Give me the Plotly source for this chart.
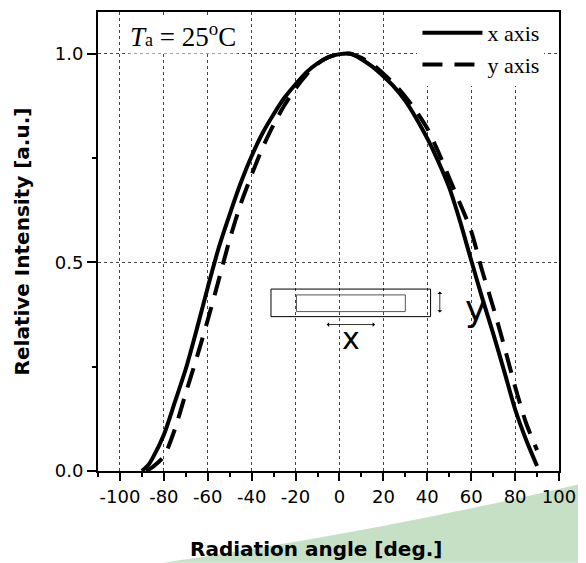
import plotly.graph_objects as go

# ---------------- data ----------------
angles_x = [-90, -87, -85, -80, -75, -70, -65, -60, -55, -50, -45, -40, -35, -30, -25,
            -20, -15, -10, -5, 0, 5, 10, 15, 20, 25, 30, 35, 40, 45, 50, 55, 60,
            65, 70, 75, 80, 85, 90]
intensity_x = [0.0, 0.015, 0.032, 0.087, 0.165, 0.245, 0.34, 0.44, 0.535, 0.615, 0.69,
               0.755, 0.81, 0.855, 0.895, 0.927, 0.956, 0.977, 0.992, 0.999, 1.0,
               0.987, 0.969, 0.946, 0.92, 0.887, 0.845, 0.797, 0.742, 0.679, 0.597,
               0.505, 0.415, 0.33, 0.24, 0.148, 0.075, 0.012]

angles_y = [-88, -85, -80, -75, -70, -65, -60, -55, -50, -45, -40, -35, -30, -25, -20,
            -15, -10, -5, 0, 5, 10, 15, 20, 25, 30, 35, 40, 45, 50, 55, 60, 65, 70,
            75, 80, 85, 90]
intensity_y = [0.0, 0.01, 0.035, 0.1, 0.187, 0.272, 0.362, 0.458, 0.555, 0.64, 0.71,
               0.775, 0.83, 0.877, 0.917, 0.95, 0.976, 0.992, 0.999, 1.0, 0.99, 0.975,
               0.952, 0.927, 0.897, 0.862, 0.821, 0.765, 0.702, 0.64, 0.575, 0.48,
               0.393, 0.3, 0.202, 0.115, 0.05]

series_names = ["x axis", "y axis"]
x_ticks = [-100, -80, -60, -40, -20, 0, 20, 40, 60, 80, 100]
x_tick_labels = ["-100", "-80", "-60", "-40", "-20", "0", "20", "40", "60", "80", "100"]
y_ticks = [0.0, 0.5, 1.0]
y_tick_labels = ["0.0", "0.5", "1.0"]

# ---------------- figure ----------------
fig = go.Figure()
fig.add_trace(go.Scatter(x=angles_x, y=intensity_x, mode="lines", name=series_names[0],
                         line=dict(color="black", width=4, shape="spline", smoothing=0.7)))
fig.add_trace(go.Scatter(x=angles_y, y=intensity_y, mode="lines", name=series_names[1],
                         line=dict(color="black", width=4, dash="20px,12px",
                                   shape="spline", smoothing=0.7)))

tick_font = dict(family="DejaVu Sans", size=18, color="black")
title_font = dict(family="DejaVu Sans", size=20, color="black")

fig.update_xaxes(range=[-110, 100], tickvals=x_ticks, ticktext=x_tick_labels,
                 ticks="outside", ticklen=8, tickwidth=1.5, tickcolor="black",
                 showline=True, linecolor="black", linewidth=2, mirror=True,
                 showgrid=True, gridcolor="#444", griddash="dot", gridwidth=1,
                 zeroline=False, tickfont=tick_font,
                 minor=dict(dtick=10, tick0=0, ticks="outside", ticklen=4,
                            tickcolor="black", showgrid=False))
fig.update_yaxes(range=[0, 1.1], tickvals=y_ticks, ticktext=y_tick_labels,
                 ticks="outside", ticklen=9, tickwidth=1.5, tickcolor="black",
                 showline=True, linecolor="black", linewidth=2, mirror=True,
                 showgrid=True, gridcolor="#444", griddash="dot", gridwidth=1,
                 zeroline=False, tickfont=tick_font,
                 title=dict(text="<b>Relative Intensity [a.u.]</b>", font=title_font,
                            standoff=20),
                 minor=dict(dtick=0.25, tick0=0, ticks="outside", ticklen=4,
                            tickcolor="black", showgrid=False))

# green decoration in the lower-right corner
fig.add_shape(type="path", xref="paper", yref="paper", layer="below",
              path="M 0.14,-0.2 Q 0.62,-0.13 1.06,-0.025 L 1.06,-0.2 Z",
              fillcolor="rgb(198,224,198)", line=dict(width=0))

# inset sketch of the emitter
fig.add_shape(type="rect", x0=-31.2, x1=41.5, y0=0.370, y1=0.436,
              line=dict(color="black", width=1))
fig.add_shape(type="rect", x0=-19.6, x1=30.0, y0=0.382, y1=0.422,
              line=dict(color="#555", width=1))
fig.add_annotation(x=16.2, y=0.351, ax=-6.5, ay=0.351, axref="x", ayref="y",
                   text="", showarrow=True, arrowhead=1, arrowside="end+start",
                   arrowsize=1, arrowwidth=0.8, arrowcolor="black")
fig.add_annotation(x=45.7, y=0.430, ax=45.7, ay=0.376, axref="x", ayref="y",
                   text="", showarrow=True, arrowhead=1, arrowside="end+start",
                   arrowsize=1, arrowwidth=0.8, arrowcolor="black")
fig.add_annotation(x=5.2, y=0.318, text="x", showarrow=False,
                   font=dict(family="DejaVu Sans", size=30, color="#000000"))
fig.add_annotation(x=61.8, y=0.39, text="y", showarrow=False,
                   font=dict(family="DejaVu Sans", size=36, color="#000000"))

# temperature label
fig.add_annotation(x=-71.5, y=1.045,
                   text="<i>T</i><span style='font-size:18px'>a</span> = 25<sup>o</sup>C",
                   showarrow=False, bgcolor="white",
                   font=dict(family="Liberation Serif", size=27, color="black"))

# x axis title
fig.add_annotation(xref="paper", yref="paper", x=0.472, y=-0.14, yanchor="top",
                   text="<b>Radiation angle [deg.]</b>", showarrow=False,
                   font=title_font)

# the page body has an 8px margin, so the figure is made 8px smaller
fig.update_layout(
    width=578, height=555,
    margin=dict(l=90, r=27, t=2, b=92),
    plot_bgcolor="white", paper_bgcolor="white",
    showlegend=True,
    legend=dict(x=0.693, y=1.0, xanchor="left", yanchor="top", bgcolor="white",
                borderwidth=0, itemwidth=60, tracegroupgap=0,
                font=dict(family="Liberation Serif", size=22, color="black")),
)

fig.write_html("out.html")
